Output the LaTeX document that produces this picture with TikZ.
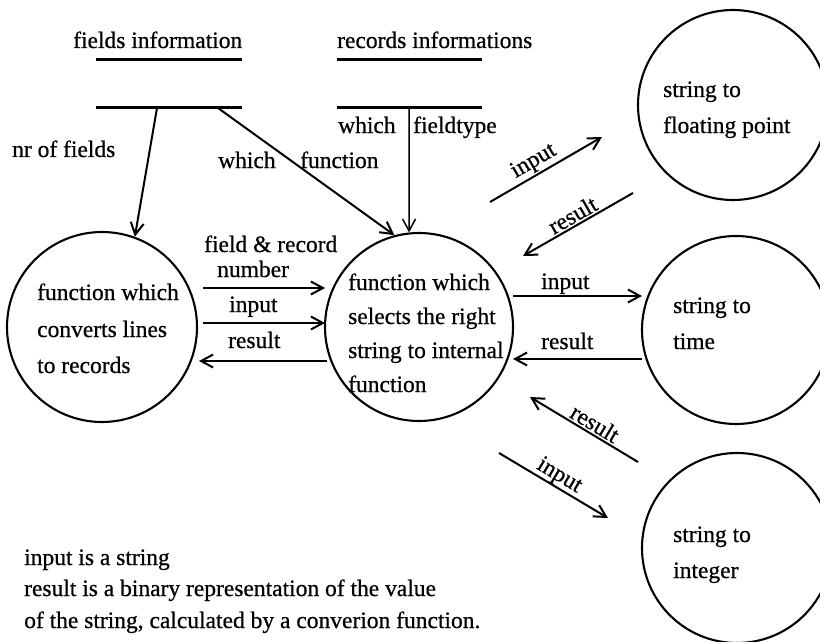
\documentclass[tikz,border=0pt]{standalone}
\usepackage{fontspec}
\setmainfont{Liberation Serif}[FakeBold=0.6]
\usetikzlibrary{arrows.meta}

\begin{document}
\begin{tikzpicture}[x=1pt,y=-1pt,
  every node/.style={font=\fontsize{23.5}{28}\selectfont},
  proc/.style={draw, circle, line width=2.1pt, minimum size=#1, inner sep=0pt},
  txt/.style={anchor=base west, inner sep=0pt},
  store/.style={line width=3pt},
  flow/.style={line width=2pt, -{Straight Barb[length=12pt,width=13pt,line width=2pt]}},
  lbl/.style={sloped, above, inner sep=2.5pt}]
\useasboundingbox (0,0) rectangle (820,642);
\clip (0,0) rectangle (820,642);

% --- data stores -------------------------------------------------------
\node[txt] (fiT) at (73,48) {fields information};
\draw[store] (96,60) -- (242,60);
\draw[store] (96,108) -- (242,108);
\node[txt] (riT) at (337,48) {records informations};
\draw[store] (337,60) -- (482,60);
\draw[store] (337,108) -- (482,108);

\coordinate (fiA) at (157,108);
\coordinate (fiB) at (218,108);
\coordinate (riA) at (409,108);

% --- processes -----------------------------------------------------------
\node[proc=190pt] (conv) at (102,327) {};
\node[proc=188pt] (sel)  at (419,327) {};
\node[proc=190pt] (flt)  at (733,105) {};
\node[proc=188pt] (tim)  at (736,330) {};
\node[proc=190pt] (int)  at (737,548) {};

\node[txt] (conv1) at (37,300) {function which};
\node[txt] (conv2) at (37,337) {converts lines};
\node[txt] (conv3) at (37,373) {to records};

\node[txt] (sel1) at (348,290) {function which};
\node[txt] (sel2) at (348,324) {selects the right};
\node[txt] (sel3) at (348,358) {string to internal};
\node[txt] (sel4) at (348,392) {function};

\node[txt] (flt1) at (663,97)  {string to};
\node[txt] (flt2) at (663,133) {floating point};
\node[txt] (tim1) at (673,313) {string to};
\node[txt] (tim2) at (673,349) {time};
\node[txt] (int1) at (673,542) {string to};
\node[txt] (int2) at (673,578) {integer};

% --- flows from the stores -------------------------------------------------
\draw[flow] (fiA) -- (conv.70);
\node[txt] (nrf) at (12,157) {nr of fields};
\draw[flow] (fiB) -- (sel.105);
\node[txt] (wf1) at (218,168) {which};
\node[txt] (wf2) at (300,168) {function};
\draw[line width=1.5pt, -{Straight Barb[length=12pt,width=13pt,line width=1.5pt]}] (riA) -- (sel.96);
\node[txt] (wt1) at (338,133) {which};
\node[txt] (wt2) at (413,133) {fieldtype};

% --- flows between conversion and selection --------------------------------
\coordinate (c1a) at (203,288); \coordinate (c1b) at (325,288);
\coordinate (c2a) at (203,323); \coordinate (c2b) at (325,323);
\coordinate (c3a) at (327,361); \coordinate (c3b) at (199,361);
\draw[flow] (c1a) -- (c1b);
\draw[flow] (c2a) -- (c2b);
\draw[flow] (c3a) -- (c3b);
\node[txt] (frn1) at (204,252) {field \& record};
\node[txt] (frn2) at (217,277) {number};
\node[txt] (cin)  at (229,312) {input};
\node[txt] (cres) at (228,348) {result};

% --- flows to and from the string conversions -------------------------------
\coordinate (f1a) at (490,202); \coordinate (f1b) at (602,137);
\coordinate (f2a) at (633,193); \coordinate (f2b) at (523,256);
\draw[flow] (f1a) -- (f1b);
\draw[flow] (f2a) -- (f2b);
\path (f1a) -- node[lbl, pos=0.45] (fin) {input} (f1b);
\path (f2b) -- node[lbl, pos=0.5] (fres) {result} (f2a);

\coordinate (t1a) at (513,296); \coordinate (t1b) at (642,296);
\coordinate (t2a) at (642,359); \coordinate (t2b) at (513,359);
\draw[flow] (t1a) -- (t1b);
\draw[flow] (t2a) -- (t2b);
\node[txt] (tin)  at (541,289) {input};
\node[txt] (tres) at (541,349) {result};

\coordinate (i1a) at (638,462); \coordinate (i1b) at (530,397);
\coordinate (i2a) at (499,453); \coordinate (i2b) at (608,518);
\draw[flow] (i1a) -- (i1b);
\draw[flow] (i2a) -- (i2b);
\path (i1b) -- node[lbl, pos=0.55] (ires) {result} (i1a);
\path (i2a) -- node[lbl, pos=0.5, inner sep=0.5pt] (iin) {input} (i2b);

% --- legend -----------------------------------------------------------------
\node[txt] (lg1) at (24,565) {input is a string};
\node[txt] (lg2) at (24,596) {result is a binary representation of the value};
\node[txt] (lg3) at (24,628) {of the string, calculated by a converion function.};
\end{tikzpicture}
\end{document}
